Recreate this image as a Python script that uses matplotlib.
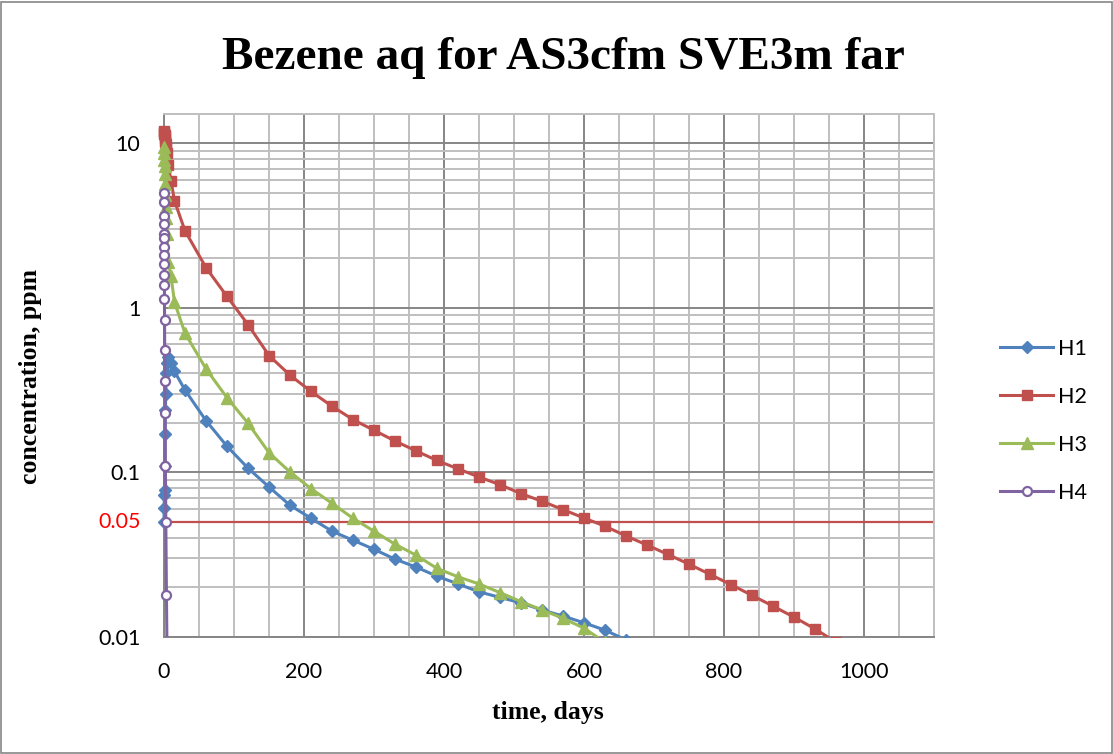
import matplotlib
matplotlib.use("Agg")
import matplotlib.pyplot as plt
from matplotlib.ticker import FixedLocator, FixedFormatter, MultipleLocator, LogLocator, NullFormatter
from matplotlib.transforms import Bbox, TransformedBbox
from matplotlib.patches import Rectangle

# ---- data -------------------------------------------------------------
title = "Bezene aq for AS3cfm SVE3m far"
x_label = "time, days"
y_label = "concentration, ppm"
series_names = ["H1", "H2", "H3", "H4"]
series_colors = ["#4F81BD", "#C0504D", "#9BBB59", "#8064A2"]

# early sampling (days) shared by H1-H3, then 30-day sampling
t_early = [0, 0.25, 0.5, 0.75, 1, 1.5, 2, 2.5, 3, 4, 6, 10, 15]
t_monthly = [30, 60, 90, 120, 150, 180, 210, 240, 270, 300, 330, 360, 390,
             420, 450, 480, 510, 540, 570, 600, 630, 660, 690, 720, 750,
             780, 810, 840, 870, 900, 930, 960]

h1_early = [0.05, 0.061, 0.073, 0.078, 0.11, 0.17, 0.24, 0.30, 0.40, 0.46,
            0.50, 0.46, 0.41]
h1_monthly = [0.316, 0.206, 0.144, 0.106, 0.0815, 0.0631, 0.0526, 0.0439,
              0.0387, 0.0341, 0.0297, 0.0266, 0.0234, 0.0210, 0.0188, 0.0174,
              0.0161, 0.0146, 0.0134, 0.0122, 0.0110, 0.0096, 0.0086]

h2_early = [11.8, 11.6, 11.4, 11.2, 11.0, 10.6, 10.2, 9.8, 9.4, 8.7, 7.4,
            5.9, 4.45]
h2_monthly = [2.93, 1.75, 1.17, 0.789, 0.512, 0.389, 0.310, 0.252, 0.209,
              0.180, 0.155, 0.135, 0.118, 0.105, 0.0937, 0.0841, 0.0743,
              0.0667, 0.0594, 0.0528, 0.0471, 0.0411, 0.0362, 0.0317, 0.0277,
              0.0240, 0.0208, 0.0179, 0.0154, 0.0132, 0.0112, 0.0093]

h3_early = [9.5, 8.7, 7.9, 7.2, 6.5, 5.6, 4.8, 4.1, 3.5, 2.8, 1.9, 1.55, 1.08]
h3_monthly = [0.70, 0.425, 0.284, 0.199, 0.1316, 0.1005, 0.0796, 0.0649,
              0.0526, 0.0439, 0.0366, 0.0314, 0.0261, 0.0232, 0.0210, 0.0186,
              0.0164, 0.0146, 0.0130, 0.0113, 0.0093]

h4_t = [0, 0.05, 0.1, 0.15, 0.2, 0.25, 0.3, 0.35, 0.4, 0.5, 0.6, 0.7, 0.8,
        1.0, 1.3, 1.6, 2.0, 2.6, 3.5, 5.0]
h4_values = [5.0, 4.4, 3.6, 3.2, 2.8, 2.65, 2.35, 2.1, 1.85, 1.58, 1.37,
             1.13, 0.84, 0.55, 0.36, 0.23, 0.11, 0.05, 0.018, 0.004]

threshold = 0.05
threshold_label = "0.05"

x_ticks = [0, 200, 400, 600, 800, 1000]
x_tick_labels = ["0", "200", "400", "600", "800", "1000"]
y_ticks = [0.01, 0.1, 1, 10]
y_tick_labels = ["0.01", "0.1", "1", "10"]

# ---- figure -----------------------------------------------------------
W, H, DPI = 1113, 754, 100
fig = plt.figure(figsize=(W / DPI, H / DPI), dpi=DPI)
ax = fig.add_axes([164 / W, 1 - 637 / H, (934 - 164) / W, (637 - 114) / H])

tick_font = "Lato"
tick_size = 15.5
serif = "Liberation Serif"

ax.set_yscale("log")
ax.set_xlim(0, 1100)
ax.set_ylim(0.01, 15)

major_grid = "#868686"
minor_grid = "#BFBFBF"
ax.xaxis.set_major_locator(FixedLocator(x_ticks))
ax.xaxis.set_major_formatter(FixedFormatter(x_tick_labels))
ax.xaxis.set_minor_locator(MultipleLocator(50))
ax.yaxis.set_major_locator(FixedLocator(y_ticks))
ax.yaxis.set_major_formatter(FixedFormatter(y_tick_labels))
ax.yaxis.set_minor_locator(LogLocator(base=10, subs=range(2, 10)))
ax.yaxis.set_minor_formatter(NullFormatter())
ax.grid(which="minor", color=minor_grid, linewidth=1.4)
ax.grid(which="major", color=major_grid, linewidth=1.4)
ax.set_axisbelow(True)
ax.tick_params(which="both", length=0)
ax.tick_params(axis="x", pad=18, labelsize=tick_size)
ax.tick_params(axis="y", pad=17, labelsize=tick_size)
for lbl in ax.get_xticklabels() + ax.get_yticklabels():
    lbl.set_fontfamily(tick_font)

for side in ("top", "right"):
    ax.spines[side].set_color(minor_grid)
    ax.spines[side].set_linewidth(1.4)
for side in ("left", "bottom"):
    ax.spines[side].set_color(major_grid)
    ax.spines[side].set_linewidth(1.4)

# threshold line and its red label
ax.axhline(threshold, color="#C0504D", linewidth=1.6, zorder=2)
ax.annotate(threshold_label, xy=(0, threshold),
            xycoords=("axes fraction", "data"), xytext=(-17, 0),
            textcoords="offset points", ha="right", va="center",
            color="red", fontsize=tick_size, fontfamily=tick_font)

# series
series = [
    (t_early + t_monthly[:len(h1_monthly)], h1_early + h1_monthly,
     dict(marker="D", markersize=6.5)),
    (t_early + t_monthly[:len(h2_monthly)], h2_early + h2_monthly,
     dict(marker="s", markersize=7.5)),
    (t_early + t_monthly[:len(h3_monthly)], h3_early + h3_monthly,
     dict(marker="^", markersize=8)),
    (h4_t, h4_values,
     dict(marker="o", markersize=6.5, markerfacecolor="white",
          markeredgewidth=1.6)),
]

# lines stop at the bottom axis, markers at the left edge stay whole
clip = TransformedBbox(Bbox([[-0.03, 0.0], [1.0, 1.05]]), ax.transAxes)
handles = []
for (t, v, style), name, color in zip(series, series_names, series_colors):
    line, = ax.plot(t, v, color=color, linewidth=2.2, label=name,
                    markeredgecolor=color, zorder=3, **style)
    line.set_clip_box(clip)
    handles.append(line)

fig.text(563 / W, 1 - 58 / H, title, fontsize=34, fontweight="bold",
         fontfamily=serif, ha="center", va="center")
fig.text(548 / W, 1 - 712 / H, x_label, fontsize=18.5, fontweight="bold",
         fontfamily=serif, ha="center", va="center")
fig.text(31 / W, 1 - 377 / H, y_label, fontsize=18.5, fontweight="bold",
         fontfamily=serif, ha="center", va="center", rotation=90)

leg = fig.legend(handles=handles, loc="center left",
                 bbox_to_anchor=(981 / W, 1 - 421 / H), frameon=False,
                 handlelength=2.45, labelspacing=1.3, handletextpad=0.25,
                 prop={"family": tick_font, "size": tick_size})

# chart border
fig.patches.append(Rectangle((0.001, 0.001), 0.998, 0.997,
                             transform=fig.transFigure, fill=False,
                             edgecolor="#868686", linewidth=1.2))

fig.savefig("out.png", dpi=DPI)
